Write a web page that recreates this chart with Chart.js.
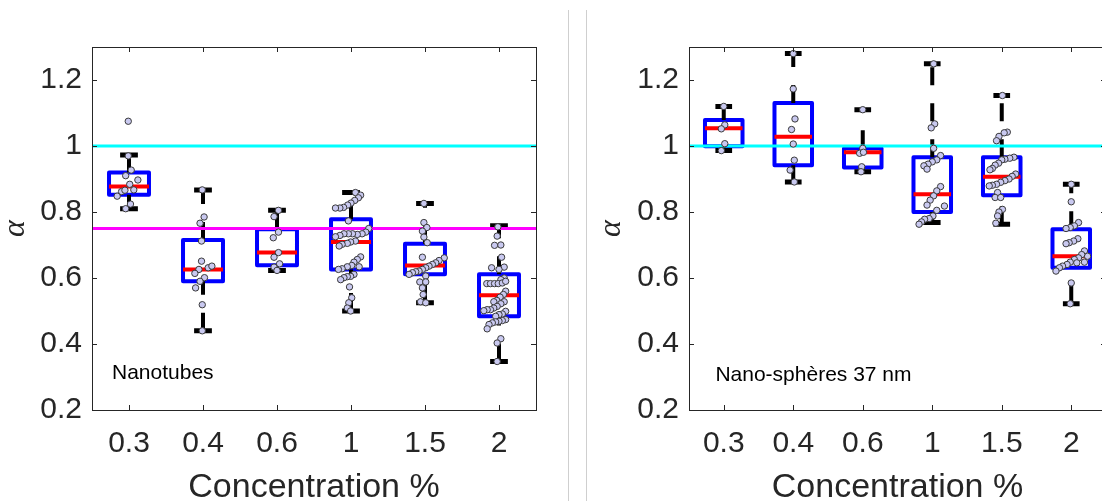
<!DOCTYPE html>
<html>
<head>
<meta charset="utf-8">
<script src="https://cdn.jsdelivr.net/npm/chart.js@4.4.1/dist/chart.umd.min.js"></script>
<style>
  html, body { margin: 0; padding: 0; background: #fff; overflow: hidden; width: 1102px; height: 501px; }
  canvas { position: absolute; top: 0; }
  #cLeft { left: 0; }
  #cRight { left: 596px; }
  .sep { position: absolute; top: 10px; bottom: 0; width: 1px; background: #cfcfcf; }
</style>
</head>
<body>
<div class="sep" style="left:568px"></div>
<div class="sep" style="left:586px"></div>
<canvas id="cLeft" width="560" height="501"></canvas>
<canvas id="cRight" width="515" height="501"></canvas>
<script>
// ====== DATA ======
const categories = ['0.3', '0.4', '0.6', '1', '1.5', '2'];
const yTicks = [0.2, 0.4, 0.6, 0.8, 1, 1.2];

// Nanotubes (left panel): box stats per concentration
const tubesLowCap  = [0.810, 0.440, 0.623, 0.500, 0.525, 0.347];
const tubesQ1      = [0.852, 0.590, 0.639, 0.626, 0.611, 0.484];
const tubesMedian  = [0.877, 0.626, 0.677, 0.709, 0.638, 0.548];
const tubesQ3      = [0.920, 0.715, 0.748, 0.778, 0.704, 0.611];
const tubesHighCap = [0.973, 0.867, 0.805, 0.859, 0.826, 0.758];
const tubesRefLines = [1, 0.75];

// individual measurements: [jitter, alpha]
const tubesPts03 = [[-0.01,1.075],[-0.01,0.970],[0.03,0.927],[-0.045,0.910],[0.01,0.884],[0.12,0.897],[0.065,0.867],[-0.10,0.862],[-0.16,0.848],[-0.055,0.866],[0.02,0.824],[-0.045,0.810]];
const tubesPts04 = [[-0.01,0.867],[0.015,0.785],[-0.04,0.766],[-0.02,0.712],[-0.02,0.651],[-0.055,0.626],[0.07,0.631],[0.12,0.636],[-0.11,0.614],[0.02,0.601],[-0.04,0.590],[-0.10,0.570],[-0.01,0.519],[-0.01,0.440]];
const tubesPts06 = [[0.02,0.805],[-0.04,0.786],[0.02,0.739],[-0.05,0.722],[0.02,0.677],[-0.04,0.663],[0.035,0.643],[-0.04,0.633],[0,0.623]];
const tubesPts1  = [[0.06,0.859],[0.13,0.851],[0.10,0.843],[0.05,0.835],[0,0.827],[-0.045,0.821],[-0.10,0.814],[-0.15,0.812],[-0.21,0.812],[-0.035,0.773],[0.24,0.750],[0.20,0.739],[0.15,0.734],[0.085,0.732],[0.02,0.734],[-0.035,0.734],[-0.095,0.734],[-0.15,0.729],[-0.21,0.725],[0.06,0.712],[-0.005,0.709],[-0.05,0.705],[-0.12,0.702],[-0.16,0.697],[0.13,0.664],[0.085,0.656],[0.04,0.648],[0.01,0.638],[-0.05,0.634],[-0.12,0.628],[-0.17,0.626],[0.11,0.634],[0.04,0.611],[-0.005,0.605],[-0.05,0.604],[-0.095,0.601],[-0.14,0.595],[-0.02,0.573],[0.01,0.540],[-0.03,0.525],[-0.05,0.509],[-0.005,0.500]];
const tubesPts15 = [[-0.015,0.826],[-0.015,0.768],[0.025,0.753],[-0.035,0.742],[-0.015,0.724],[0.03,0.707],[-0.035,0.663],[0.26,0.661],[0.19,0.653],[0.145,0.646],[0.10,0.641],[0.055,0.636],[0.01,0.631],[-0.035,0.626],[-0.08,0.621],[-0.125,0.619],[-0.17,0.616],[-0.215,0.611],[0.01,0.606],[-0.07,0.588],[0.01,0.588],[-0.035,0.570],[-0.025,0.550],[-0.06,0.528],[0.01,0.525]];
const tubesPts2  = [[-0.015,0.755],[-0.025,0.727],[-0.06,0.699],[0.025,0.700],[0.035,0.663],[-0.10,0.631],[0.07,0.633],[0,0.626],[0.07,0.600],[0.025,0.595],[-0.165,0.583],[-0.115,0.583],[-0.06,0.583],[-0.01,0.583],[0.045,0.585],[0.09,0.590],[0.09,0.560],[0.06,0.550],[0.015,0.542],[-0.03,0.532],[-0.07,0.528],[0.07,0.528],[0.025,0.522],[-0.025,0.514],[-0.07,0.509],[-0.115,0.504],[-0.16,0.504],[-0.205,0.501],[0.09,0.499],[0.045,0.491],[0,0.489],[-0.045,0.484],[0.09,0.474],[0.045,0.471],[0,0.469],[-0.045,0.467],[-0.09,0.464],[-0.135,0.459],[-0.16,0.446],[0.025,0.416],[-0.025,0.403],[-0.025,0.347]];

// Nano-spheres 37 nm (right panel)
const spheresLowCap  = [0.986, 0.891, 0.922, 0.768, 0.763, 0.522];
const spheresQ1      = [0.999, 0.942, 0.935, 0.800, 0.851, 0.631];
const spheresMedian  = [1.054, 1.028, 0.981, 0.854, 0.907, 0.666];
const spheresQ3      = [1.079, 1.130, 0.993, 0.966, 0.966, 0.748];
const spheresHighCap = [1.120, 1.280, 1.110, 1.249, 1.153, 0.884];
const spheresRefLines = [1];

const spheresPts03 = [[0,1.120],[0.015,1.064],[-0.035,1.052],[0.015,1.007],[-0.035,0.986]];
const spheresPts04 = [[0,1.280],[0,1.173],[0.025,1.082],[-0.025,1.050],[0,1.006],[0.015,0.957],[-0.045,0.927],[0.015,0.891]];
const spheresPts06 = [[0,1.110],[0,0.993],[-0.045,0.978],[0.01,0.981],[-0.015,0.937],[-0.025,0.922]];
const spheresPts1  = [[0.02,1.249],[0.035,1.067],[-0.015,1.055],[0.02,0.993],[0.12,0.971],[0.065,0.958],[0,0.952],[-0.06,0.945],[-0.12,0.940],[-0.075,0.930],[0.12,0.877],[0.065,0.864],[0.02,0.849],[-0.03,0.836],[-0.075,0.821],[0.175,0.818],[0.065,0.805],[0.01,0.788],[-0.045,0.780],[-0.11,0.778],[-0.155,0.770],[-0.19,0.763]];
const spheresPts15 = [[0.01,1.153],[0.08,1.042],[0.035,1.040],[-0.04,1.029],[-0.075,1.016],[0.175,0.966],[0.115,0.963],[0.045,0.960],[0,0.958],[-0.045,0.948],[-0.095,0.942],[-0.135,0.932],[-0.17,0.928],[0.20,0.915],[0.15,0.908],[0.105,0.900],[0.045,0.895],[-0.015,0.890],[-0.075,0.884],[-0.135,0.881],[-0.18,0.879],[-0.06,0.859],[-0.095,0.844],[-0.015,0.844],[0.01,0.808],[-0.04,0.800],[-0.06,0.788],[-0.085,0.766]];
const spheresPts2  = [[0,0.884],[0,0.831],[0.105,0.768],[0.045,0.758],[-0.015,0.753],[-0.075,0.750],[0.095,0.719],[0.035,0.712],[-0.03,0.707],[-0.075,0.704],[0.19,0.682],[0.235,0.666],[0.15,0.671],[0.105,0.661],[0.045,0.656],[-0.015,0.648],[0.19,0.648],[-0.06,0.641],[-0.125,0.636],[-0.17,0.631],[-0.22,0.621],[0.08,0.646],[0,0.585],[-0.015,0.522]];

// ====== STYLE ======
const SANS = '"Liberation Sans", Arial, Helvetica, sans-serif';
const SERIF = '"Liberation Serif", "Times New Roman", serif';
const TEXT = '#262626';
const BOX_HALF = 0.27;
const CAP_HALF = 0.12;
const REF_COLORS = { 1: '#00ffff', 0.75: '#ff00ff' };

// frame with inward ticks (MATLAB "box on") + panel label
const axesFrame = {
  id: 'axesFrame',
  afterDraw(chart, args, opts) {
    const { ctx, chartArea: a, scales: { x, y } } = chart;
    ctx.save();
    ctx.strokeStyle = TEXT;
    ctx.lineWidth = 1;
    ctx.strokeRect(a.left + 0.5, a.top + 0.5, a.right - a.left, a.bottom - a.top);
    ctx.beginPath();
    x.ticks.forEach(t => {
      const px = Math.round(x.getPixelForValue(t.value)) + 0.5;
      ctx.moveTo(px, a.bottom); ctx.lineTo(px, a.bottom - 5);
      ctx.moveTo(px, a.top); ctx.lineTo(px, a.top + 5);
    });
    y.ticks.forEach(t => {
      const py = Math.round(y.getPixelForValue(t.value)) + 0.5;
      ctx.moveTo(a.left, py); ctx.lineTo(a.left + 5, py);
      ctx.moveTo(a.right, py); ctx.lineTo(a.right - 5, py);
    });
    ctx.stroke();
    ctx.font = '21px ' + SANS;
    ctx.fillStyle = '#000';
    ctx.textBaseline = 'middle';
    ctx.fillText(opts.label, x.getPixelForValue(opts.at[0]), y.getPixelForValue(opts.at[1]));
    ctx.restore();
  }
};

function lineSet(data, color, width, extra) {
  return Object.assign({
    data, showLine: true, borderColor: color, borderWidth: width,
    pointRadius: 0, spanGaps: false, borderCapStyle: 'butt', borderJoinStyle: 'round'
  }, extra || {});
}

function makeBoxChart(canvasId, s) {
  const box = [], med = [], whisk = [], caps = [], dots = [];
  s.q1.forEach((lo, i) => {
    const c = i + 1, hi = s.q3[i];
    box.push({ x: c - BOX_HALF, y: lo }, { x: c + BOX_HALF, y: lo }, { x: c + BOX_HALF, y: hi },
             { x: c - BOX_HALF, y: hi }, { x: c - BOX_HALF, y: lo }, { x: c, y: null });
    med.push({ x: c - BOX_HALF, y: s.median[i] }, { x: c + BOX_HALF, y: s.median[i] }, { x: c, y: null });
    whisk.push({ x: c, y: s.lowCap[i] }, { x: c, y: lo }, { x: c, y: null },
               { x: c, y: hi }, { x: c, y: s.highCap[i] }, { x: c, y: null });
    caps.push({ x: c - CAP_HALF, y: s.lowCap[i] }, { x: c + CAP_HALF, y: s.lowCap[i] }, { x: c, y: null },
              { x: c - CAP_HALF, y: s.highCap[i] }, { x: c + CAP_HALF, y: s.highCap[i] }, { x: c, y: null });
    s.points[i].forEach(([dx, v]) => dots.push({ x: c + dx, y: v }));
  });
  const refs = s.refLines.map(r => lineSet([{ x: 0.5, y: r }, { x: 6.5, y: r }], REF_COLORS[r], 3));
  const noGrid = { display: false, drawTicks: false, tickLength: 0 };

  return new Chart(document.getElementById(canvasId), {
    type: 'scatter',
    data: {
      datasets: [
        { data: dots, showLine: false, pointRadius: 3.2, pointBackgroundColor: '#c9c9f0',
          pointBorderColor: '#3a3a3a', pointBorderWidth: 1 },
        ...refs,
        lineSet(med, '#ff0000', 4),
        lineSet(caps, '#000000', 5),
        lineSet(whisk, '#000000', 4, { borderDash: [18, 18] }),
        lineSet(box, '#0000ff', 4, { borderCapStyle: 'round' })
      ]
    },
    options: {
      responsive: false,
      animation: false,
      events: [],
      layout: { padding: { top: 47, right: s.padRight, bottom: 0, left: 0 } },
      plugins: {
        legend: { display: false },
        tooltip: { enabled: false },
        axesFrame: { label: s.label, at: s.labelAt }
      },
      scales: {
        x: {
          type: 'linear', min: 0.5, max: 6.5,
          grid: noGrid, border: { display: false },
          afterBuildTicks: sc => { sc.ticks = categories.map((_, i) => ({ value: i + 1 })); },
          afterFit: sc => { sc.height = 91; },
          ticks: {
            autoSkip: false, maxRotation: 0, padding: 16, color: TEXT,
            font: { family: SANS, size: 30 },
            callback: v => categories[Math.round(v) - 1]
          },
          title: {
            display: true, text: 'Concentration %', color: TEXT,
            font: { family: SANS, size: 34, lineHeight: 0.8 }, padding: { top: 0, bottom: 0 }
          }
        },
        y: {
          type: 'linear', min: 0.2, max: 1.3,
          grid: noGrid, border: { display: false },
          afterBuildTicks: sc => { sc.ticks = yTicks.map(v => ({ value: v })); },
          afterFit: sc => { sc.width = s.yWidth; },
          ticks: { padding: 10, color: TEXT, font: { family: SANS, size: 30 }, callback: v => String(v) },
          title: {
            display: true, text: 'α', color: TEXT,
            font: { family: SERIF, style: 'italic', size: 32, lineHeight: 1 }, padding: 0
          }
        }
      }
    },
    plugins: [axesFrame]
  });
}

// ====== INIT ======
makeBoxChart('cLeft', {
  lowCap: tubesLowCap, q1: tubesQ1, median: tubesMedian, q3: tubesQ3, highCap: tubesHighCap,
  points: [tubesPts03, tubesPts04, tubesPts06, tubesPts1, tubesPts15, tubesPts2],
  refLines: tubesRefLines,
  label: 'Nanotubes', labelAt: [0.77, 0.312],
  yWidth: 92, padRight: 24
});
makeBoxChart('cRight', {
  lowCap: spheresLowCap, q1: spheresQ1, median: spheresMedian, q3: spheresQ3, highCap: spheresHighCap,
  points: [spheresPts03, spheresPts04, spheresPts06, spheresPts1, spheresPts15, spheresPts2],
  refLines: spheresRefLines,
  label: 'Nano-sphères 37 nm', labelAt: [0.88, 0.306],
  yWidth: 93, padRight: 0
});
</script>
</body>
</html>
